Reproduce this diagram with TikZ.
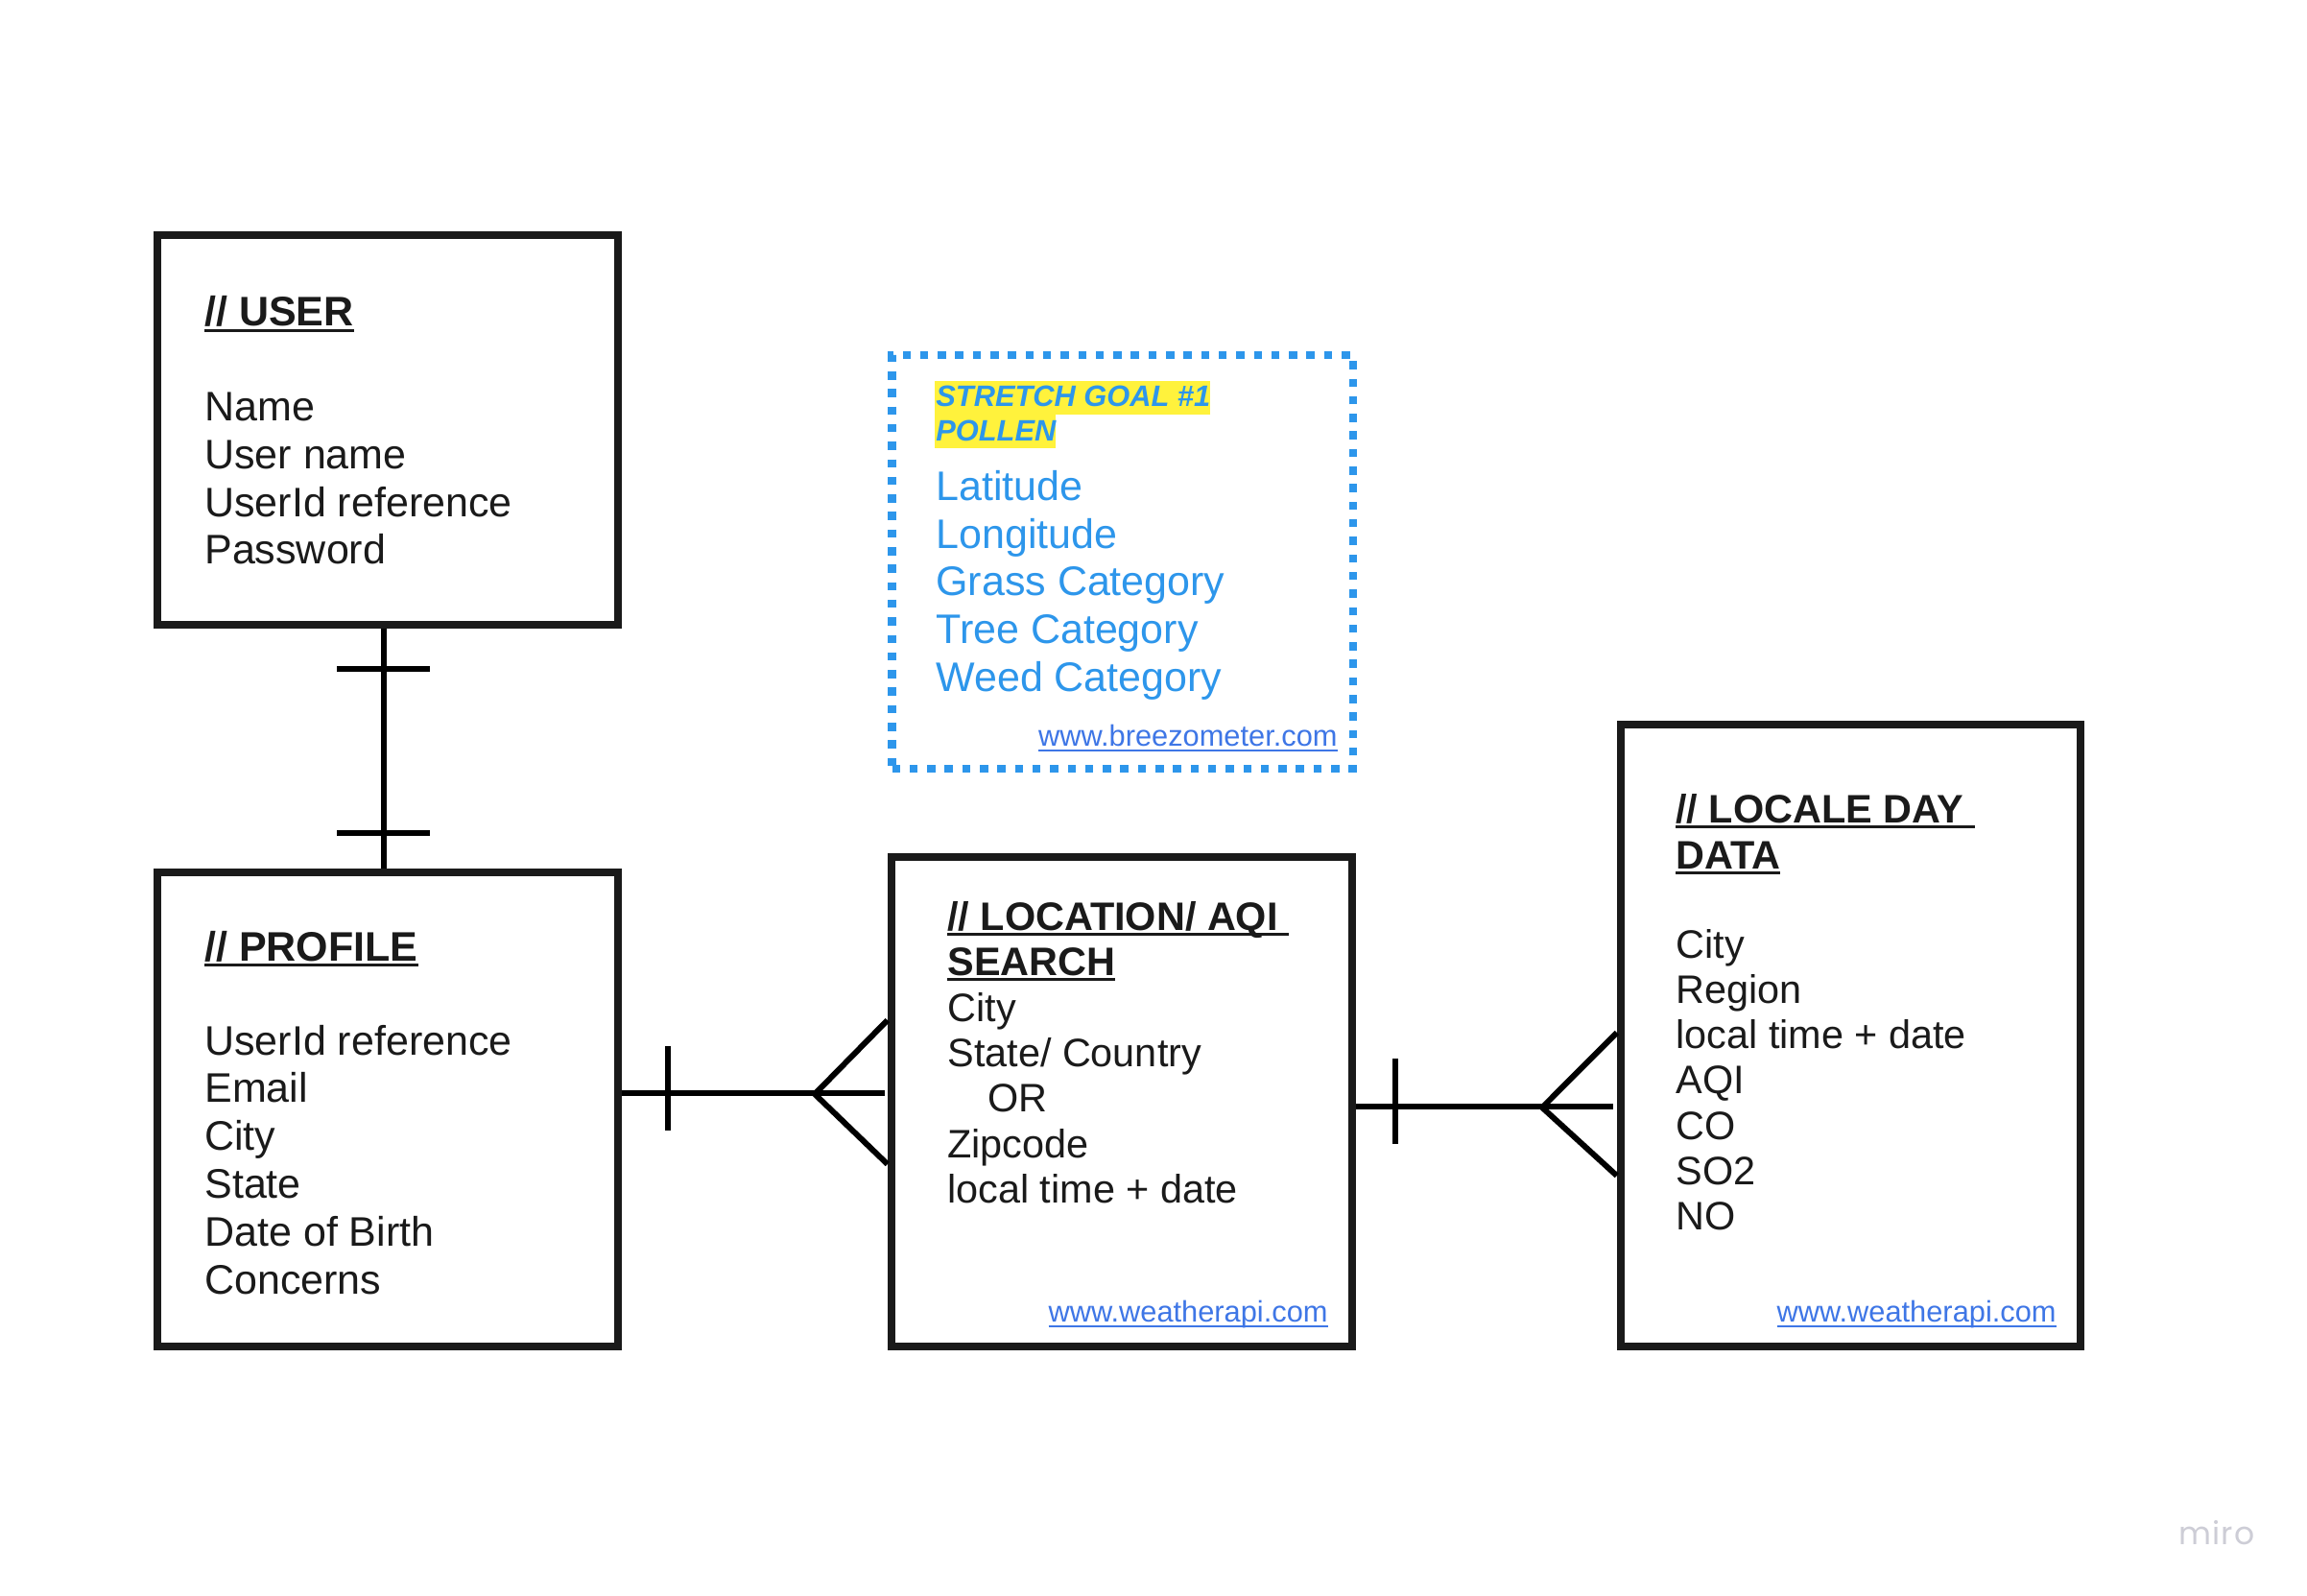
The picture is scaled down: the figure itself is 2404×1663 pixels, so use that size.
\documentclass[tikz,border=0pt]{standalone}
\usepackage{fontspec}
\setmainfont{Liberation Sans}
\newfontfamily\logofont[LetterSpace=4]{Poppins}
\usetikzlibrary{fit,calc}

\definecolor{ink}{RGB}{26,26,26}
\definecolor{pollenblue}{RGB}{45,150,235}
\definecolor{linkblue}{RGB}{62,118,230}
\definecolor{marker}{RGB}{255,242,60}
\definecolor{logogray}{RGB}{205,205,214}

% underlined heading / link text
\newsavebox\ulsave
\newcommand\ulhead[1]{\sbox\ulsave{#1}\rlap{\rule[-3pt]{\wd\ulsave}{1.5pt}}\usebox\ulsave}
\newcommand\ullink[1]{\sbox\ulsave{#1}\rlap{\rule[-2.8pt]{\wd\ulsave}{0.9pt}}\usebox\ulsave}

\begin{document}
\begin{tikzpicture}[x=0.5pt,y=-0.5pt,
  entity/.style={draw=ink,line width=4.25pt,inner sep=0pt},
  conn/.style={draw=black,line width=3pt},
  txt/.style={anchor=base west,inner sep=0pt,text=ink,font=\fontsize{21.5}{25}\selectfont},
  head/.style={txt,font=\fontsize{21.5}{25}\selectfont\bfseries},
  txtb/.style={txt,font=\fontsize{20.7}{25}\selectfont},
  headb/.style={txt,font=\fontsize{20.7}{25}\selectfont\bfseries},
  blue/.style={txt,text=pollenblue},
  goal/.style={txt,text=pollenblue,font=\fontsize{15.4}{18}\selectfont\bfseries\itshape},
  link/.style={anchor=base east,inner sep=0pt,text=linkblue,font=\fontsize{15.4}{18}\selectfont}]

\useasboundingbox (0,0) rectangle (2404,1663);
\fill[white] (0,0) rectangle (2404,1663);

% entity boxes
\node[entity,fit={(164,245) (644,651)}] (user) {};
\node[entity,fit={(164,909) (644,1403)}] (profile) {};
\node[entity,fit={(929,893) (1409,1403)}] (location) {};
\node[entity,fit={(1689,755) (2168,1403)}] (locale) {};
\node[draw=pollenblue,line width=4.25pt,dash pattern=on 4.25pt off 4.9pt,inner sep=0pt,
      fit={(929.5,370) (1410,801)}] (pollen) {};

% USER
\node[head] (userT) at (213,340) {\ulhead{// USER}};
\foreach \t [count=\i] in {Name,User name,UserId reference,Password}
  \node[txt] (user-\i) at (213,{439+49.6*(\i-1)}) {\t};

% PROFILE
\node[head] (profileT) at (213,1001) {\ulhead{// PROFILE}};
\foreach \t [count=\i] in {UserId reference,Email,City,State,Date of Birth,Concerns}
  \node[txt] (profile-\i) at (213,{1099+49.8*(\i-1)}) {\t};

% LOCATION / AQI SEARCH
\node[headb] (locT1) at (987,969) {\ulhead{// LOCATION/ AQI\ }};
\node[headb] (locT2) at (987,1016) {\ulhead{SEARCH}};
\node[txtb] (loc-1) at (987,1064) {City};
\node[txtb] (loc-2) at (987,1111) {State/ Country};
\node[txtb] (loc-3) at (1029,1158) {OR};
\node[txtb] (loc-4) at (987,1206) {Zipcode};
\node[txtb] (loc-5) at (987,1253) {local time + date};
\node[link] (locURL) at (1384,1377) {\ullink{www.weatherapi.com}};

% LOCALE DAY DATA
\node[headb] (dayT1) at (1746,857) {\ulhead{// LOCALE DAY\ }};
\node[headb] (dayT2) at (1746,905) {\ulhead{DATA}};
\foreach \t [count=\i] in {City,Region,local time + date,AQI,CO,SO2,NO}
  \node[txtb] (day-\i) at (1746,{998+47.3*(\i-1)}) {\t};
\node[link] (dayURL) at (2143,1377) {\ullink{www.weatherapi.com}};

% stretch goal: pollen
\fill[marker] (974,397) rectangle (1261,432);
\fill[marker] (974,432) rectangle (1100,467);
\node[goal] (goal-1) at (975,424) {STRETCH GOAL \#1};
\node[goal] (goal-2) at (975,460) {POLLEN};
\foreach \t [count=\i] in {Latitude,Longitude,Grass Category,Tree Category,Weed Category}
  \node[blue] (pollen-\i) at (975,{522+49.5*(\i-1)}) {\t};
\node[link] (pollenURL) at (1394,777) {\ullink{www.breezometer.com}};

% USER -- PROFILE : one and only one
\draw[conn] (user.south -| 400,0) -- (profile.north -| 400,0);
\draw[conn] (351,697) -- (448,697);
\draw[conn] (351,868) -- (448,868);

% PROFILE -- LOCATION : one to many
\draw[conn] (profile.east |- 0,1139) -- (922,1139);
\draw[conn] (696,1090) -- (696,1178);
\draw[conn] (location.west |- 0,1063) -- (849,1140) -- (location.west |- 0,1213);

% LOCATION -- LOCALE DAY DATA : one to many
\draw[conn] (location.east |- 0,1153) -- (1681,1153);
\draw[conn] (1454,1103) -- (1454,1192);
\draw[conn] (locale.west |- 0,1076) -- (1607,1154) -- (locale.west |- 0,1225);

% watermark
\node[inner sep=0pt,text=logogray,font=\logofont\fontsize{16.5}{18}\selectfont] (logo) at (2310,1597) {miro};
\end{tikzpicture}
\end{document}
